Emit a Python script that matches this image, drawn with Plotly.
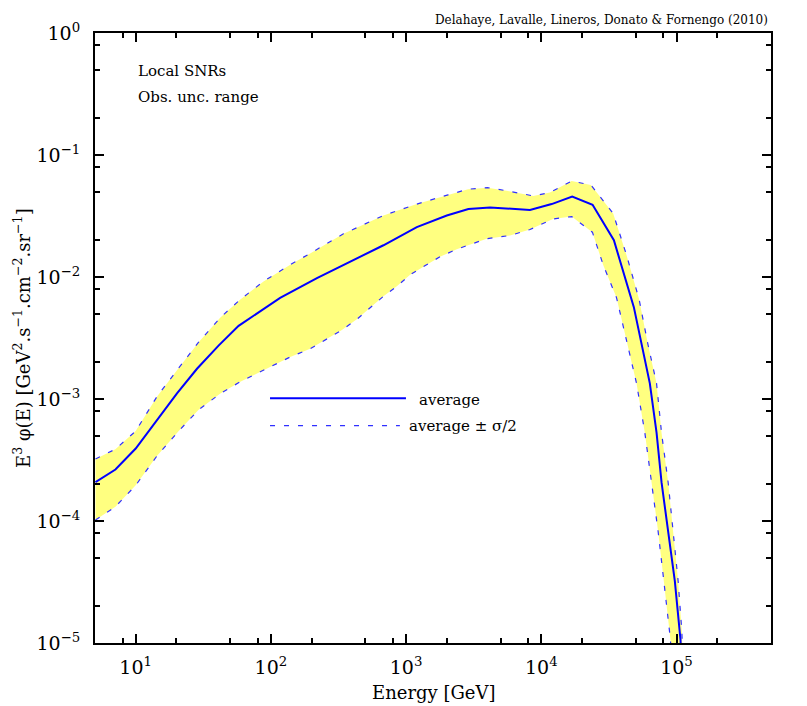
import plotly.graph_objects as go

# average curve
e_avg = [5.04, 7.08, 10.0, 14.2, 20.2, 28.4, 41.0, 57.7, 83.4, 117, 219, 386, 680, 1200,
         2000, 2890, 4175, 8245, 11930, 16930, 23950, 34430, 48360, 63500, 71190, 77480,
         86700, 97160, 107100, 111300]
f_avg = [2.08e-4, 2.64e-4, 3.93e-4, 6.61e-4, 1.11e-3, 1.77e-3, 2.74e-3, 3.98e-3, 5.26e-3,
         6.75e-3, 9.8e-3, 1.33e-2, 1.82e-2, 2.56e-2, 3.19e-2, 3.61e-2, 3.72e-2, 3.54e-2,
         3.96e-2, 4.56e-2, 3.91e-2, 2.0e-2, 5.66e-3, 1.342e-3, 5.29e-4, 2.08e-4, 8.21e-5,
         3.23e-5, 1.057e-5, 3.46e-6]

# average + sigma/2
e_up = [5.04, 7.08, 10.0, 14.4, 20.2, 29.2, 42.3, 59.4, 88.2, 139, 195, 344, 680, 1200,
        2043, 2871, 4001, 5670, 8723, 11580, 16760, 23280, 34020, 42720, 52930, 61380,
        71190, 77480, 86700, 94400, 102800, 109400, 113200]
f_up = [3.22e-4, 3.88e-4, 5.46e-4, 1.05e-3, 1.72e-3, 2.92e-3, 4.65e-3, 6.54e-3, 9.2e-3,
        1.26e-2, 1.56e-2, 2.26e-2, 3.19e-2, 3.96e-2, 4.71e-2, 5.24e-2, 5.40e-2, 5.07e-2,
        4.62e-2, 4.92e-2, 6.11e-2, 5.68e-2, 3.31e-2, 1.51e-2, 6.54e-3, 2.83e-3, 1.342e-3,
        5.29e-4, 2.08e-4, 8.21e-5, 3.23e-5, 1.27e-5, 5.02e-6]

# average - sigma/2
e_lo = [5.04, 7.08, 10.0, 14.4, 20.8, 29.2, 42.3, 59.4, 83.4, 139, 195, 259.5, 335, 432,
        542, 680, 854, 1071, 1342, 1783, 2369, 3948, 5866, 8245, 12190, 16760, 23880,
        28690, 36040, 42720, 50640, 58320, 65370, 73120, 80570, 90300, 93100]
f_lo = [1.02e-4, 1.31e-4, 1.96e-4, 3.43e-4, 5.46e-4, 8.16e-4, 1.11e-3, 1.385e-3, 1.67e-3,
        2.21e-3, 2.58e-3, 3.10e-3, 3.67e-3, 4.50e-3, 5.60e-3, 6.95e-3, 8.38e-3, 1.042e-2,
        1.216e-2, 1.465e-2, 1.69e-2, 2.06e-2, 2.19e-2, 2.45e-2, 2.99e-2, 3.13e-2, 2.33e-2,
        1.256e-2, 6.75e-3, 3.01e-3, 1.342e-3, 5.29e-4, 2.08e-4, 8.21e-5, 3.23e-5,
        1.057e-5, 3.46e-6]

x_major = [10, 100, 1000, 10000, 100000]
x_major_text = ["10<sup>1</sup>", "10<sup>2</sup>", "10<sup>3</sup>", "10<sup>4</sup>", "10<sup>5</sup>"]
y_major = [1e-5, 1e-4, 1e-3, 1e-2, 1e-1, 1]
y_major_text = ["10<sup>\u22125</sup>", "10<sup>\u22124</sup>", "10<sup>\u22123</sup>",
                "10<sup>\u22122</sup>", "10<sup>\u22121</sup>", "10<sup>0</sup>"]
x_minor = [m * 10 ** d for d in range(0, 6) for m in (2, 5, 8)]
y_minor = [m * 10.0 ** d for d in range(-5, 0) for m in (2, 5, 8)]

FONT = "DejaVu Serif"
BLUE = "#0000ff"
DASH_BLUE = "#3030ff"
YELLOW = "#ffff80"

fig = go.Figure()

# observational uncertainty band
fig.add_trace(go.Scatter(
    x=e_up + e_lo[::-1], y=f_up + f_lo[::-1],
    mode="lines", fill="toself", fillcolor=YELLOW,
    line=dict(width=0, color=YELLOW), hoverinfo="skip", showlegend=False,
))
fig.add_trace(go.Scatter(x=e_up, y=f_up, mode="lines", showlegend=False,
                         line=dict(color=DASH_BLUE, width=1.2, dash="5px,9px")))
fig.add_trace(go.Scatter(x=e_lo, y=f_lo, mode="lines", showlegend=False,
                         line=dict(color=DASH_BLUE, width=1.2, dash="5px,9px")))
fig.add_trace(go.Scatter(x=e_avg, y=f_avg, mode="lines", showlegend=False,
                         line=dict(color=BLUE, width=2)))

axis_style = dict(
    type="log", showgrid=False, zeroline=False,
    showline=True, linecolor="black", linewidth=2, mirror="ticks",
    ticks="inside", ticklen=9, tickwidth=1.5, tickcolor="black",
    tickfont=dict(family=FONT, size=19, color="black"),
)

fig.update_xaxes(
    **axis_style,
    range=[0.69897, 5.69897],
    ticklabelstandoff=6,
    tickmode="array", tickvals=x_major, ticktext=x_major_text,
    minor=dict(tickmode="array", tickvals=x_minor, ticks="inside",
               ticklen=5, tickwidth=1.5, tickcolor="black"),
)
fig.update_yaxes(
    **axis_style,
    range=[-5, 0],
    ticklabelstandoff=9,
    tickmode="array", tickvals=y_major, ticktext=y_major_text,
    minor=dict(tickmode="array", tickvals=y_minor, ticks="inside",
               ticklen=5, tickwidth=1.5, tickcolor="black"),
)

ann_font = dict(family=FONT, size=15, color="black")
fig.update_layout(
    width=807, height=706,
    margin=dict(l=87, r=44, t=17, b=71),
    plot_bgcolor="white", paper_bgcolor="white",
    shapes=[
        dict(type="line", xref="paper", yref="paper", x0=0.2589, x1=0.46, y0=0.4013, y1=0.4013,
             line=dict(color=BLUE, width=2)),
        dict(type="line", xref="paper", yref="paper", x0=0.2589, x1=0.451, y0=0.3565, y1=0.3565,
             line=dict(color=DASH_BLUE, width=1.2, dash="5px,9px")),
    ],
    annotations=[
        dict(text="Local SNRs", x=0.0607, y=0.9385, xref="paper", yref="paper",
             xanchor="left", yanchor="middle", showarrow=False, font=ann_font),
        dict(text="Obs. unc. range", x=0.0607, y=0.8948, xref="paper", yref="paper",
             xanchor="left", yanchor="middle", showarrow=False, font=ann_font),
        dict(text="average", x=0.4759, y=0.3987, xref="paper", yref="paper",
             xanchor="left", yanchor="middle", showarrow=False, font=ann_font),
        dict(text="average \u00b1 \u03c3/2", x=0.4611, y=0.356, xref="paper", yref="paper",
             xanchor="left", yanchor="middle", showarrow=False, font=ann_font),
        dict(text="Delahaye, Lavalle, Lineros, Donato &amp; Fornengo (2010)",
             x=0.9985, y=1.0215, xref="paper", yref="paper",
             xanchor="right", yanchor="middle", showarrow=False,
             font=dict(family=FONT, size=12, color="black")),
        dict(text="Energy [GeV]", x=0.5, y=-0.0809, xref="paper", yref="paper",
             xanchor="center", yanchor="middle", showarrow=False,
             font=dict(family=FONT, size=18, color="black")),
        dict(text="E<sup>3</sup> \u03c6(E) [GeV<sup>2</sup>.s<sup>\u22121</sup>.cm<sup>\u22122</sup>"
                  ".sr<sup>\u22121</sup>]",
             x=-0.108, y=0.5, xref="paper", yref="paper", textangle=-90,
             xanchor="center", yanchor="middle", showarrow=False,
             font=dict(family=FONT, size=18, color="black")),
    ],
)

fig.write_html("out.html")
